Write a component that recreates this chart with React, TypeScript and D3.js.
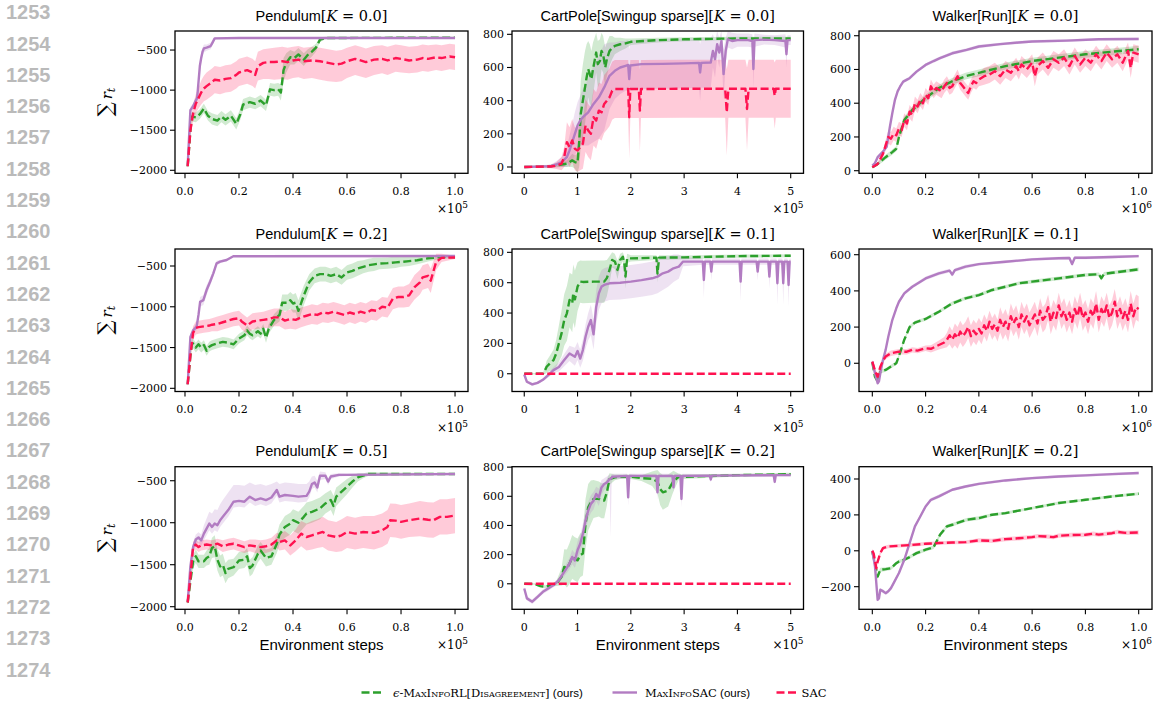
import React from 'react';
import * as d3 from 'd3';

// each point: [step, mean, spread-down, spread-up?]
type Pt = number[];

const lineNumbers = [1253, 1254, 1255, 1256, 1257, 1258, 1259, 1260, 1261, 1262, 1263, 1264, 1265, 1266, 1267, 1268, 1269, 1270, 1271, 1272, 1273, 1274];

const envNames = ['Pendulum', 'CartPole[Swingup sparse]', 'Walker[Run]'];
const panelK = [['0.0', '0.0', '0.0'], ['0.2', '0.1', '0.1'], ['0.5', '0.2', '0.2']];
const unitTicks = [0, 0.2, 0.4, 0.6, 0.8, 1.0];
const cartXTicks = [0, 1, 2, 3, 4, 5];
const xExponents = ['5', '5', '6'];
const pendYTicks = [-2000, -1500, -1000, -500];
const cartYTicks = [0, 200, 400, 600, 800];
const walkerYTicks = [[0, 200, 400, 600, 800], [0, 200, 400, 600], [-200, 0, 200, 400]];
const legendLabels = ['MaxInfoRL[Disagreement]', 'MaxInfoSAC', 'SAC'];

// ---------- Pendulum ----------
const pend0Green: Pt[] = [[0.01,-1950,20],[0.02,-1500,60],[0.025,-1330,60],[0.04,-1340,60],[0.055,-1300,60],[0.07,-1230,60],[0.085,-1320,60],[0.1,-1360,70],[0.12,-1380,70],[0.135,-1330,70],[0.15,-1370,70],[0.17,-1320,70],[0.19,-1420,70],[0.205,-1300,70],[0.215,-1180,70],[0.24,-1150,70],[0.26,-1170,70],[0.28,-1130,70],[0.3,-1190,70],[0.315,-990,80],[0.33,-1000,80],[0.345,-990,80],[0.355,-1030,100],[0.365,-750,150],[0.375,-660,120],[0.39,-590,90],[0.405,-600,80],[0.42,-555,80],[0.44,-620,80],[0.455,-560,70],[0.47,-520,60],[0.485,-470,50],[0.5,-370,30],[0.52,-350,15],[1.0,-345,10]];
const pend0Purple: Pt[] = [[0.01,-1940,20],[0.02,-1250,40],[0.03,-1200,40],[0.04,-1130,50],[0.045,-1100,60],[0.055,-700,60],[0.06,-600,60],[0.065,-520,50],[0.07,-480,50],[0.08,-470,40],[0.095,-450,40],[0.1,-420,30],[0.11,-355,15],[0.2,-350,8],[1.0,-350,8]];
const pend0Red: Pt[] = [[0.01,-1950,30],[0.02,-1500,80],[0.03,-1290,100],[0.04,-1170,120],[0.05,-1100,130],[0.06,-1030,150],[0.07,-980,160],[0.08,-950,170],[0.1,-900,170],[0.11,-870,170],[0.13,-880,170],[0.15,-860,170],[0.17,-850,170],[0.19,-810,170],[0.2,-780,170],[0.22,-760,170],[0.23,-750,170],[0.25,-780,170],[0.26,-810,170],[0.27,-700,180],[0.29,-660,200,170],[0.31,-650,210,170],[0.33,-650,220,180],[0.36,-640,220,180],[0.38,-650,220,180],[0.4,-630,220,170],[0.42,-620,220,170],[0.44,-640,220,170],[0.47,-630,220,170],[0.5,-640,230,170],[0.53,-660,230,170],[0.56,-680,220,170],[0.58,-670,220,170],[0.6,-640,210,170],[0.63,-610,200,170],[0.65,-630,200,170],[0.67,-650,200,170],[0.7,-620,190,170],[0.73,-610,180,170],[0.75,-630,180,170],[0.78,-600,170,170],[0.8,-610,170,170],[0.83,-630,160,170],[0.86,-620,160,170],[0.88,-600,160,170],[0.9,-610,160,170],[0.93,-590,160,160],[0.95,-600,160,160],[0.98,-580,160,160],[1.0,-590,160,160]];

const pend2Green: Pt[] = [[0.01,-1950,20],[0.02,-1600,60],[0.025,-1460,60],[0.03,-1450,60],[0.04,-1500,60],[0.05,-1460,60],[0.06,-1500,60],[0.07,-1470,60],[0.08,-1540,60],[0.09,-1490,60],[0.1,-1470,60],[0.12,-1450,60],[0.14,-1430,60],[0.16,-1440,60],[0.18,-1460,60],[0.2,-1390,60],[0.22,-1350,60],[0.23,-1290,60],[0.24,-1330,60],[0.25,-1350,60],[0.27,-1300,60],[0.28,-1330,60],[0.29,-1270,60],[0.3,-1380,60],[0.31,-1270,60],[0.33,-1160,70],[0.35,-1100,80],[0.36,-950,100],[0.38,-950,100],[0.39,-920,100],[0.4,-960,110],[0.41,-950,120],[0.42,-1050,130],[0.44,-860,120],[0.46,-700,100],[0.48,-620,90],[0.5,-600,90],[0.52,-600,90],[0.54,-620,90],[0.56,-600,90],[0.58,-640,90],[0.6,-580,90],[0.62,-560,90],[0.64,-530,90],[0.66,-510,80],[0.68,-490,80],[0.7,-480,80],[0.72,-470,70],[0.75,-465,70],[0.78,-455,70],[0.8,-450,60],[0.83,-440,60],[0.86,-430,50],[0.9,-405,40],[0.95,-390,20],[1.0,-390,15]];
const pend2Purple: Pt[] = [[0.01,-1950,20],[0.02,-1370,40],[0.03,-1290,40],[0.043,-1246,40],[0.05,-1100,60],[0.056,-940,60],[0.068,-918,60],[0.08,-795,60],[0.093,-693,50],[0.105,-590,40],[0.117,-467,30],[0.13,-447,20],[0.154,-426,15],[0.179,-380,10],[1.0,-378,8]];
const pend2Red: Pt[] = [[0.01,-1950,30],[0.02,-1600,60],[0.03,-1320,80],[0.04,-1260,80],[0.05,-1250,80],[0.07,-1240,80],[0.09,-1230,80],[0.1,-1220,80],[0.12,-1210,90],[0.14,-1190,90],[0.16,-1170,90],[0.18,-1150,90],[0.2,-1140,90],[0.21,-1180,100],[0.23,-1230,100],[0.25,-1180,100],[0.27,-1170,100],[0.29,-1160,100],[0.31,-1150,110],[0.33,-1130,110],[0.35,-1130,110],[0.37,-1170,110],[0.39,-1150,120],[0.41,-1160,120],[0.43,-1130,120],[0.45,-1110,120],[0.47,-1090,120],[0.49,-1100,120],[0.51,-1070,120],[0.53,-1080,120],[0.55,-1060,120],[0.57,-1080,120],[0.59,-1100,120],[0.61,-1070,120],[0.63,-1090,120],[0.65,-1060,120],[0.67,-1080,120],[0.69,-1040,120],[0.71,-1050,120],[0.73,-1000,120],[0.75,-1010,120],[0.77,-900,130],[0.79,-880,130],[0.81,-880,130],[0.83,-860,140],[0.85,-760,150],[0.87,-700,150],[0.88,-640,150],[0.9,-620,150],[0.91,-680,150],[0.93,-450,100],[0.95,-400,50],[1.0,-395,20]];

const pend5Green: Pt[] = [[0.01,-1950,20],[0.02,-1700,60],[0.03,-1460,80],[0.04,-1400,80],[0.05,-1460,80],[0.07,-1460,80],[0.08,-1420,90],[0.09,-1400,100],[0.1,-1300,120],[0.11,-1280,130],[0.12,-1440,130],[0.13,-1520,130],[0.14,-1500,130],[0.15,-1600,120],[0.16,-1550,110],[0.18,-1530,100],[0.2,-1450,100],[0.22,-1440,100],[0.23,-1400,100],[0.24,-1540,100],[0.25,-1510,100],[0.27,-1370,100],[0.28,-1330,100],[0.3,-1420,100],[0.32,-1400,100],[0.34,-1250,110],[0.35,-1140,120],[0.37,-1050,130],[0.39,-1010,130],[0.4,-970,130],[0.42,-1000,130],[0.44,-930,130],[0.45,-890,130],[0.47,-870,130],[0.5,-830,130],[0.52,-770,120],[0.54,-730,120],[0.55,-800,120],[0.56,-690,110],[0.58,-630,100],[0.6,-570,90],[0.62,-510,70],[0.64,-460,50],[0.66,-440,30],[0.68,-420,20],[1.0,-420,10]];
const pend5Purple: Pt[] = [[0.01,-1940,20],[0.02,-1520,60],[0.03,-1290,60],[0.04,-1200,60],[0.05,-1175,60],[0.06,-1210,70],[0.07,-1130,80,100],[0.08,-1070,80,120],[0.09,-1010,80,140],[0.1,-1050,80,160],[0.11,-1010,80,170],[0.12,-1030,80,180],[0.13,-970,80,190],[0.14,-930,80,200],[0.16,-850,80,210],[0.18,-750,70,200],[0.2,-740,70,190],[0.22,-750,70,190],[0.24,-690,70,170],[0.26,-730,70,180],[0.28,-710,70,170],[0.3,-730,70,170],[0.32,-700,70,160],[0.34,-610,70,100],[0.35,-690,70,150],[0.37,-670,70,150],[0.4,-680,70,150],[0.42,-690,70,150],[0.45,-680,70,140],[0.46,-630,70,120],[0.47,-540,60,90],[0.48,-520,60,80],[0.49,-580,60,80],[0.5,-440,50],[0.52,-440,40],[0.53,-510,40],[0.54,-450,30],[0.57,-430,20],[0.6,-430,15],[1.0,-420,10]];
const pend5Red: Pt[] = [[0.01,-1950,30],[0.02,-1650,60],[0.03,-1290,60],[0.04,-1260,60],[0.05,-1290,60],[0.06,-1270,60],[0.08,-1260,60],[0.1,-1270,60],[0.12,-1250,60],[0.14,-1280,70],[0.16,-1260,70],[0.18,-1250,70],[0.2,-1270,70],[0.22,-1290,70],[0.24,-1270,70],[0.26,-1280,80],[0.28,-1290,80],[0.3,-1280,80],[0.32,-1260,80],[0.34,-1210,90],[0.35,-1230,100],[0.37,-1210,110],[0.39,-1270,120],[0.41,-1210,130],[0.43,-1130,150],[0.45,-1170,160],[0.47,-1150,170],[0.49,-1130,170],[0.51,-1110,180],[0.53,-1150,180],[0.56,-1170,180],[0.58,-1150,190],[0.6,-1110,190],[0.63,-1130,190],[0.66,-1110,190],[0.7,-1120,200],[0.73,-1090,200],[0.75,-1050,200],[0.76,-970,200],[0.78,-975,200],[0.8,-990,200],[0.83,-970,200],[0.87,-950,210],[0.9,-965,210],[0.92,-970,210],[0.944,-930,210],[0.97,-930,210],[1.0,-915,210]];

// ---------- CartPole ----------
const cart0Green: Pt[] = [[0,0,3],[0.3,2,5],[0.5,5,8],[0.6,10,10],[0.7,15,15],[0.8,20,20],[0.9,40,40],[0.95,30,40],[1.0,25,60],[1.03,150,150],[1.06,320,200],[1.1,400,220],[1.14,480,220],[1.17,540,200],[1.2,590,170],[1.23,560,180],[1.26,530,170],[1.29,590,160],[1.32,640,140],[1.35,690,120],[1.38,620,140],[1.42,640,130],[1.45,700,110],[1.48,680,110],[1.52,600,120],[1.55,650,100],[1.6,700,90],[1.65,720,70],[1.7,730,50],[1.8,740,40],[1.9,745,30],[2.0,755,20],[2.5,765,15],[3.0,770,12],[4.0,775,10],[5.0,775,10]];
const cart0Purple: Pt[] = [[0,0,3],[0.5,5,10],[0.6,15,20],[0.7,30,30],[0.8,60,60],[0.85,100,90],[0.9,150,110],[0.95,200,130],[1.0,250,140],[1.05,280,150],[1.1,300,170],[1.2,330,200],[1.3,380,230],[1.4,420,250],[1.5,480,260],[1.6,550,200],[1.7,580,170],[1.8,600,160],[1.9,610,150],[1.95,615,150],[1.97,530,180],[1.99,612,150],[2.2,620,150],[2.6,622,150],[3.0,625,150],[3.28,628,150],[3.3,570,170],[3.32,628,150],[3.5,630,150],[3.54,700,100],[3.58,650,110],[3.62,740,80],[3.66,690,90],[3.7,760,60],[3.74,560,150],[3.78,700,80],[3.82,770,50],[3.9,760,50],[4.0,765,40],[4.2,765,40],[4.28,760,40],[4.3,590,120],[4.32,765,40],[4.5,768,30],[4.7,765,30],[4.9,760,40],[4.92,680,80],[4.94,765,30],[5.0,765,30]];
const cart0Red: Pt[] = [[0,0,3],[0.5,3,10],[0.6,8,20],[0.7,20,40],[0.75,60,60],[0.8,150,120],[0.85,120,120],[0.9,160,130],[0.95,110,130],[1.0,100,130],[1.05,120,140],[1.1,140,150],[1.15,250,160],[1.2,220,160],[1.25,200,160],[1.3,300,170],[1.35,280,170],[1.4,340,170],[1.45,330,170],[1.5,380,175],[1.55,400,175],[1.6,420,175],[1.65,460,175],[1.7,470,175],[1.95,470,175],[1.97,300,250],[1.99,470,175],[2.15,470,175],[2.17,340,250],[2.19,470,175],[3.0,472,175],[3.77,472,175],[3.8,330,260],[3.83,472,175],[4.15,472,175],[4.18,350,250],[4.21,472,175],[4.68,472,175],[4.7,430,200],[4.72,472,175],[5.0,472,175]];

const cart1Green: Pt[] = [[0,0,3],[0.35,0,5],[0.4,30,30],[0.42,46,40],[0.48,68,50],[0.55,90,70],[0.6,134,90],[0.65,200,120],[0.7,266,150],[0.75,354,170],[0.8,398,180],[0.85,486,180],[0.9,464,190],[0.92,530,190],[0.95,490,190],[1.0,574,160],[1.05,607,140],[1.1,605,140],[1.3,607,140],[1.5,607,140],[1.55,630,120],[1.6,684,90],[1.65,750,50],[1.7,740,50],[1.75,684,60],[1.8,750,40],[1.85,771,30],[1.88,720,50],[1.9,640,80],[1.93,760,30],[2.0,760,20],[2.48,765,15],[2.5,660,60],[2.53,765,15],[3.0,767,12],[4.0,775,10],[5.0,778,10]];
const cart1Purple: Pt[] = [[0,-5,5],[0.05,-53,10],[0.15,-70,10],[0.25,-60,10],[0.35,-40,10],[0.45,-9,15],[0.55,24,20],[0.65,45,30],[0.75,90,40],[0.85,134,50],[0.95,112,60],[1.0,150,60],[1.05,100,60],[1.1,156,70],[1.15,244,80],[1.2,310,90],[1.25,354,100],[1.3,260,100],[1.35,440,110],[1.4,530,110],[1.45,574,110],[1.5,585,110],[1.6,596,110],[1.8,600,110],[2.0,607,110],[2.2,617,110],[2.4,629,110],[2.5,640,110],[2.6,662,110],[2.7,673,100],[2.8,695,90],[2.9,706,80],[2.98,739,30],[3.35,739,20],[3.37,618,120],[3.39,739,20],[3.49,739,20],[3.51,673,60],[3.53,739,20],[4.04,739,20],[4.06,607,130],[4.08,739,20],[4.36,739,20],[4.38,673,60],[4.4,739,20],[4.58,739,20],[4.6,640,80],[4.62,739,20],[4.73,739,20],[4.75,596,140],[4.77,739,20],[4.84,739,20],[4.86,596,140],[4.88,739,20],[4.94,739,20],[4.96,585,140],[4.98,739,20],[5.0,739,20]];
const cart1Red: Pt[] = [[0,0,0],[5,0,0]];

const cart2Green: Pt[] = [[0,0,3],[0.2,-2,5],[0.3,-16,8],[0.4,-20,10],[0.5,-10,10],[0.6,0,15],[0.7,48,60],[0.75,116,120],[0.8,105,130],[0.85,139,140],[0.9,184,150],[0.95,170,150],[1.0,161,150],[1.05,195,150],[1.1,207,150],[1.15,411,170],[1.2,525,160],[1.25,559,150],[1.3,582,130],[1.4,582,120],[1.45,570,120],[1.5,570,120],[1.55,627,90],[1.6,718,40],[1.7,730,20],[1.8,734,15],[2.0,734,15],[2.2,725,20],[2.4,720,50],[2.5,700,80],[2.55,650,110],[2.6,627,120],[2.7,640,110],[2.8,705,70],[2.9,734,20],[3.0,734,15],[4.0,745,10],[5.0,752,10]];
const cart2Purple: Pt[] = [[0,-32,10],[0.05,-100,15],[0.15,-123,15],[0.25,-89,15],[0.35,-55,15],[0.45,-32,15],[0.55,-9,15],[0.65,25,20],[0.75,82,30],[0.85,139,40],[0.9,184,50],[0.95,160,50],[1.0,230,60],[1.05,275,60],[1.1,343,70],[1.15,434,70],[1.2,502,60],[1.25,548,60],[1.3,570,60],[1.35,616,50],[1.4,593,60],[1.45,661,50],[1.5,684,40],[1.55,695,40],[1.6,718,30],[1.62,720,400,10],[1.64,725,30],[1.65,734,20],[1.93,740,15],[1.95,593,60],[1.97,740,15],[2.48,740,15],[2.5,627,50],[2.52,740,15],[2.78,740,15],[2.8,661,40],[2.82,740,15],[2.93,740,15],[2.95,582,60],[2.97,740,15],[3.48,742,10],[3.5,715,20],[3.52,742,10],[4.68,745,10],[4.7,700,20],[4.72,745,10],[5.0,745,10]];
const cart2Red: Pt[] = [[0,0,0],[5,0,0]];

// ---------- Walker ----------
const walk0Green: Pt[] = [[0,20,5],[0.02,40,10],[0.05,80,15],[0.075,110,15],[0.09,130,15],[0.1,200,20],[0.12,300,20],[0.15,360,20],[0.2,430,20],[0.25,490,20],[0.3,530,20],[0.35,560,20],[0.4,580,20],[0.5,620,20],[0.6,650,20],[0.7,670,20],[0.8,690,20],[0.9,705,20],[1.0,720,20]];
const walk0Purple: Pt[] = [[0,30,5],[0.01,45,8],[0.02,80,8],[0.04,113,8],[0.054,142,8],[0.06,200,10],[0.066,261,10],[0.075,340,10],[0.085,420,10],[0.095,470,10],[0.104,498,10],[0.116,528,10],[0.13,540,10],[0.14,548,10],[0.166,587,10],[0.2,627,10],[0.23,650,10],[0.254,667,10],[0.3,696,10],[0.354,716,10],[0.4,736,10],[0.48,750,8],[0.55,760,8],[0.6,766,8],[0.73,771,8],[0.85,779,8],[1.0,781,8]];
const walk0Red: Pt[] = [[0,20,5],[0.02,40,10],[0.04,100,20],[0.05,150,30],[0.06,200,40],[0.07,190,40],[0.08,220,40],[0.09,210,40],[0.1,250,40],[0.11,240,40],[0.12,300,40],[0.13,280,40],[0.14,350,40],[0.15,330,40],[0.16,400,40],[0.17,380,40],[0.18,420,40],[0.19,400,40],[0.2,450,40],[0.21,430,40],[0.22,500,40],[0.23,470,40],[0.24,490,40],[0.25,480,40],[0.26,470,40],[0.27,500,40],[0.28,520,40],[0.29,490,40],[0.3,500,40],[0.31,530,40],[0.32,560,40],[0.33,520,40],[0.34,500,40],[0.35,480,40],[0.36,460,40],[0.37,500,40],[0.38,530,40],[0.39,520,40],[0.4,540,40],[0.42,560,50],[0.44,570,50],[0.46,590,50],[0.48,560,50],[0.5,600,50],[0.52,580,50],[0.54,620,50],[0.55,590,50],[0.56,630,50],[0.58,600,50],[0.6,640,50],[0.61,560,60],[0.62,620,50],[0.64,650,50],[0.66,610,50],[0.68,660,50],[0.7,640,50],[0.72,670,50],[0.74,620,50],[0.76,680,50],[0.78,630,50],[0.8,670,50],[0.82,640,50],[0.84,690,50],[0.86,650,50],[0.88,700,50],[0.9,660,50],[0.92,690,50],[0.94,640,50],[0.96,710,50],[0.97,610,60],[0.98,700,50],[1.0,690,50]];

const walk1Green: Pt[] = [[0,5,5],[0.01,-74,10],[0.02,-101,10],[0.03,-46,10],[0.05,-37,10],[0.07,-18,10],[0.09,0,10],[0.1,40,10],[0.12,130,10],[0.14,200,10],[0.16,225,10],[0.2,245,10],[0.25,285,10],[0.3,331,10],[0.35,359,10],[0.4,377,10],[0.45,405,10],[0.5,423,10],[0.55,442,10],[0.6,451,10],[0.7,469,10],[0.8,488,10],[0.85,492,10],[0.86,470,12],[0.87,494,10],[0.9,500,10],[1.0,519,10]];
const walk1Purple: Pt[] = [[0,9,5],[0.01,-55,10],[0.02,-110,10],[0.025,-100,10],[0.03,-55,10],[0.04,18,10],[0.05,74,10],[0.06,147,10],[0.075,239,10],[0.09,304,10],[0.1,340,10],[0.12,386,10],[0.15,423,10],[0.2,469,10],[0.25,497,10],[0.29,512,10],[0.3,490,12],[0.31,515,10],[0.35,534,10],[0.4,548,8],[0.5,561,8],[0.6,574,8],[0.7,580,8],[0.74,582,8],[0.75,548,12],[0.76,583,8],[0.8,583,8],[0.9,587,8],[1.0,592,8]];
const walk1Red: Pt[] = [[0,9,10],[0.01,-40,15],[0.02,-74,15],[0.03,-20,15],[0.04,15,15],[0.05,37,15],[0.07,55,15],[0.1,64,15],[0.13,64,15],[0.15,74,15],[0.17,70,15],[0.2,83,15],[0.22,80,20],[0.25,101,25],[0.27,115,30],[0.28,129,40],[0.29,155,50],[0.3,130,50],[0.31,160,60],[0.32,140,60],[0.33,175,60],[0.34,150,60],[0.35,170,60],[0.36,200,60],[0.37,150,60],[0.38,180,60],[0.39,160,60],[0.4,190,60],[0.41,165,60],[0.42,210,60],[0.43,180,60],[0.44,230,60],[0.45,190,60],[0.46,215,60],[0.47,180,60],[0.48,240,70],[0.49,200,70],[0.5,230,70],[0.51,190,70],[0.52,260,70],[0.53,220,70],[0.54,250,70],[0.55,200,70],[0.56,270,70],[0.57,230,70],[0.58,260,70],[0.59,210,70],[0.6,240,70],[0.61,270,70],[0.62,220,70],[0.63,290,70],[0.64,240,70],[0.65,260,70],[0.66,310,70],[0.67,230,70],[0.68,280,70],[0.69,250,70],[0.7,320,70],[0.71,260,70],[0.72,290,70],[0.73,240,70],[0.74,280,70],[0.75,230,70],[0.76,300,70],[0.77,260,70],[0.78,320,70],[0.79,250,70],[0.8,280,70],[0.81,230,70],[0.82,290,70],[0.83,260,70],[0.84,330,70],[0.85,240,70],[0.86,300,70],[0.87,270,70],[0.88,320,70],[0.89,250,70],[0.9,280,70],[0.91,340,70],[0.92,260,70],[0.93,300,70],[0.94,250,70],[0.95,290,70],[0.96,240,70],[0.97,330,70],[0.98,260,70],[0.99,310,70],[1.0,300,70]];

const walk2Green: Pt[] = [[0,-5,5],[0.01,-69,10],[0.02,-143,15],[0.03,-106,12],[0.05,-102,10],[0.07,-97,10],[0.09,-69,10],[0.1,-60,10],[0.12,-50,10],[0.14,-35,10],[0.166,-13,10],[0.2,6,10],[0.23,20,10],[0.254,89,12],[0.28,136,10],[0.3,145,10],[0.354,173,10],[0.4,182,10],[0.45,201,8],[0.5,210,8],[0.6,238,8],[0.7,266,8],[0.8,284,8],[0.9,303,8],[1.0,318,8]];
const walk2Purple: Pt[] = [[0,0,5],[0.01,-87,10],[0.02,-273,10],[0.025,-265,10],[0.03,-217,10],[0.04,-225,10],[0.05,-236,10],[0.06,-226,10],[0.07,-208,10],[0.08,-180,10],[0.1,-124,10],[0.12,-50,10],[0.14,43,10],[0.16,136,10],[0.18,191,10],[0.2,247,10],[0.22,284,10],[0.25,303,10],[0.3,340,8],[0.35,358,8],[0.4,373,8],[0.5,392,8],[0.6,405,8],[0.7,414,8],[0.8,420,8],[0.9,427,8],[1.0,433,8]];
const walk2Red: Pt[] = [[0,0,10],[0.005,-15,15],[0.015,-97,15],[0.02,-60,15],[0.03,-13,12],[0.04,15,10],[0.06,24,10],[0.1,28,10],[0.15,33,10],[0.2,39,10],[0.25,43,10],[0.3,46,10],[0.35,48,10],[0.4,58,12],[0.45,55,12],[0.5,65,12],[0.55,70,12],[0.6,76,12],[0.62,82,12],[0.65,80,12],[0.68,76,12],[0.7,84,12],[0.75,88,12],[0.8,89,12],[0.83,95,12],[0.85,90,12],[0.9,98,12],[0.92,105,12],[0.95,100,12],[1.0,102,12]];

const COLORS = ['#2ca02c', '#b27cc2', '#ff1250'];
const DASHED = [true, false, true];

const colX = [[175, 468], [512, 803.5], [859, 1152]];
const rowY = [[31, 173.3], [249, 391.5], [466.7, 609.3]];
const xDomains = [[-0.037, 1.048], [-0.23, 5.24], [-0.05, 1.05]];
const yDomains = [
  [[-2037.5, -262.5], [-38, 820], [-15.4, 828]],
  [[-2039, -291.5], [-117, 822], [-156, 631.5]],
  [[-2031, -333], [-175, 803], [-326, 468.5]],
];

const seriesGrid: Pt[][][][] = [
  [[pend0Green, pend0Purple, pend0Red], [cart0Green, cart0Purple, cart0Red], [walk0Green, walk0Purple, walk0Red]],
  [[pend2Green, pend2Purple, pend2Red], [cart1Green, cart1Purple, cart1Red], [walk1Green, walk1Purple, walk1Red]],
  [[pend5Green, pend5Purple, pend5Red], [cart2Green, cart2Purple, cart2Red], [walk2Green, walk2Purple, walk2Red]],
];

const SERIF = "'DejaVu Serif', 'Liberation Serif', serif";
const SANS = "'Liberation Sans', Arial, sans-serif";
const minus = (s: string) => s.replace('-', '\u2212');

function Panel({ row, col }: { row: number; col: number }) {
  const [x0, x1] = colX[col];
  const [y0, y1] = rowY[row];
  const x = d3.scaleLinear().domain(xDomains[col]).range([x0, x1]);
  const y = d3.scaleLinear().domain(yDomains[row][col]).range([y1, y0]);
  const xTicks = col === 1 ? cartXTicks : unitTicks;
  const xFmt = col === 1 ? d3.format('d') : d3.format('.1f');
  const yTicks = col === 0 ? pendYTicks : col === 1 ? cartYTicks : walkerYTicks[row];
  const series = seriesGrid[row][col];
  const clipId = `clip-${row}-${col}`;

  const area = d3.area<Pt>()
    .x(d => x(d[0]))
    .y0(d => y(d[1] - d[2]))
    .y1(d => y(d[1] + (d[3] ?? d[2])));
  const line = d3.line<Pt>().x(d => x(d[0])).y(d => y(d[1]));
  const cx = (x0 + x1) / 2;

  return (
    <g>
      <defs>
        <clipPath id={clipId}>
          <rect x={x0} y={y0} width={x1 - x0} height={y1 - y0} />
        </clipPath>
      </defs>
      <g clipPath={`url(#${clipId})`}>
        {series.map((s, i) => (
          <path key={'b' + i} d={area(s) || ''} fill={COLORS[i]} fillOpacity={0.22} stroke="none" />
        ))}
        {series.map((s, i) => (
          <path key={'l' + i} d={line(s) || ''} fill="none" stroke={COLORS[i]} strokeWidth={2.4}
            strokeDasharray={DASHED[i] ? '8,3.5' : undefined} strokeLinejoin="round" />
        ))}
      </g>
      <rect x={x0} y={y0} width={x1 - x0} height={y1 - y0} fill="none" stroke="#000" strokeWidth={1.3} />
      {xTicks.map(t => (
        <g key={'x' + t}>
          <line x1={x(t)} x2={x(t)} y1={y1} y2={y1 + 5} stroke="#000" strokeWidth={1.1} />
          <text x={x(t)} y={y1 + 21.5} textAnchor="middle" fontFamily={SERIF} fontSize={11}>{xFmt(t)}</text>
        </g>
      ))}
      {yTicks.map(t => (
        <g key={'y' + t}>
          <line x1={x0 - 5} x2={x0} y1={y(t)} y2={y(t)} stroke="#000" strokeWidth={1.1} />
          <text x={x0 - 8} y={y(t)} dy="0.36em" textAnchor="end" fontFamily={SERIF} fontSize={11}>{minus(String(t))}</text>
        </g>
      ))}
      <text x={x1} y={y1 + 40} textAnchor="end" fontFamily={SERIF} fontSize={12}>
        ×10<tspan dy={-5} fontSize={9}>{xExponents[col]}</tspan>
      </text>
      <text x={cx} y={y0 - 10.5} textAnchor="middle" fontSize={14.5}>
        <tspan fontFamily={SANS}>{envNames[col]}</tspan>
        <tspan fontFamily={SERIF}>[</tspan>
        <tspan fontFamily={SERIF} fontStyle="italic">K</tspan>
        <tspan fontFamily={SERIF}>{' = ' + panelK[row][col] + ']'}</tspan>
      </text>
      {row === 2 && (
        <text x={cx} y={650} textAnchor="middle" fontFamily={SANS} fontSize={15}>Environment steps</text>
      )}
      {col === 0 && (
        <text transform={`translate(112, ${(y0 + y1) / 2}) rotate(-90)`} textAnchor="middle" fontFamily={SERIF}>
          <tspan fontSize={20}>∑</tspan>
          <tspan fontSize={15} fontStyle="italic" dx={3}>r</tspan>
          <tspan fontSize={11} fontStyle="italic" dy={3}>t</tspan>
        </text>
      )}
    </g>
  );
}

function Legend() {
  const yL = 692.5;
  const handles = [[361.5, 383.5], [612.5, 637], [776.5, 797.5]];
  const textX = [393, 645, 801.5];
  return (
    <g>
      {handles.map(([a, b], i) => (
        <line key={i} x1={a} x2={b} y1={yL} y2={yL} stroke={COLORS[i]} strokeWidth={2.4}
          strokeDasharray={DASHED[i] ? '8,3.5' : undefined} />
      ))}
      <text x={textX[0]} y={yL + 4} fontSize={11.5} fontFamily={SERIF}>
        <tspan fontStyle="italic">ϵ</tspan>
        <tspan style={{ fontVariant: 'small-caps' }}>{'-' + legendLabels[0]}</tspan>
        <tspan fontFamily={SANS}> (ours)</tspan>
      </text>
      <text x={textX[1]} y={yL + 4} fontSize={11.5} fontFamily={SERIF}>
        <tspan style={{ fontVariant: 'small-caps' }}>{legendLabels[1]}</tspan>
        <tspan fontFamily={SANS}> (ours)</tspan>
      </text>
      <text x={textX[2]} y={yL + 4} fontSize={11.5} fontFamily={SERIF}>{legendLabels[2]}</text>
    </g>
  );
}

export default function App() {
  return (
    <svg width={1153} height={701} style={{ position: 'absolute', left: 0, top: 0, background: '#fff' }}>
      {lineNumbers.map((n, i) => (
        <text key={n} x={6} y={12 + i * 31.3} dy="0.36em" fontFamily={SANS} fontWeight="bold" fontSize={20} fill="#bababa">{n}</text>
      ))}
      {[0, 1, 2].map(r => [0, 1, 2].map(c => <Panel key={`${r}-${c}`} row={r} col={c} />))}
      <Legend />
    </svg>
  );
}
